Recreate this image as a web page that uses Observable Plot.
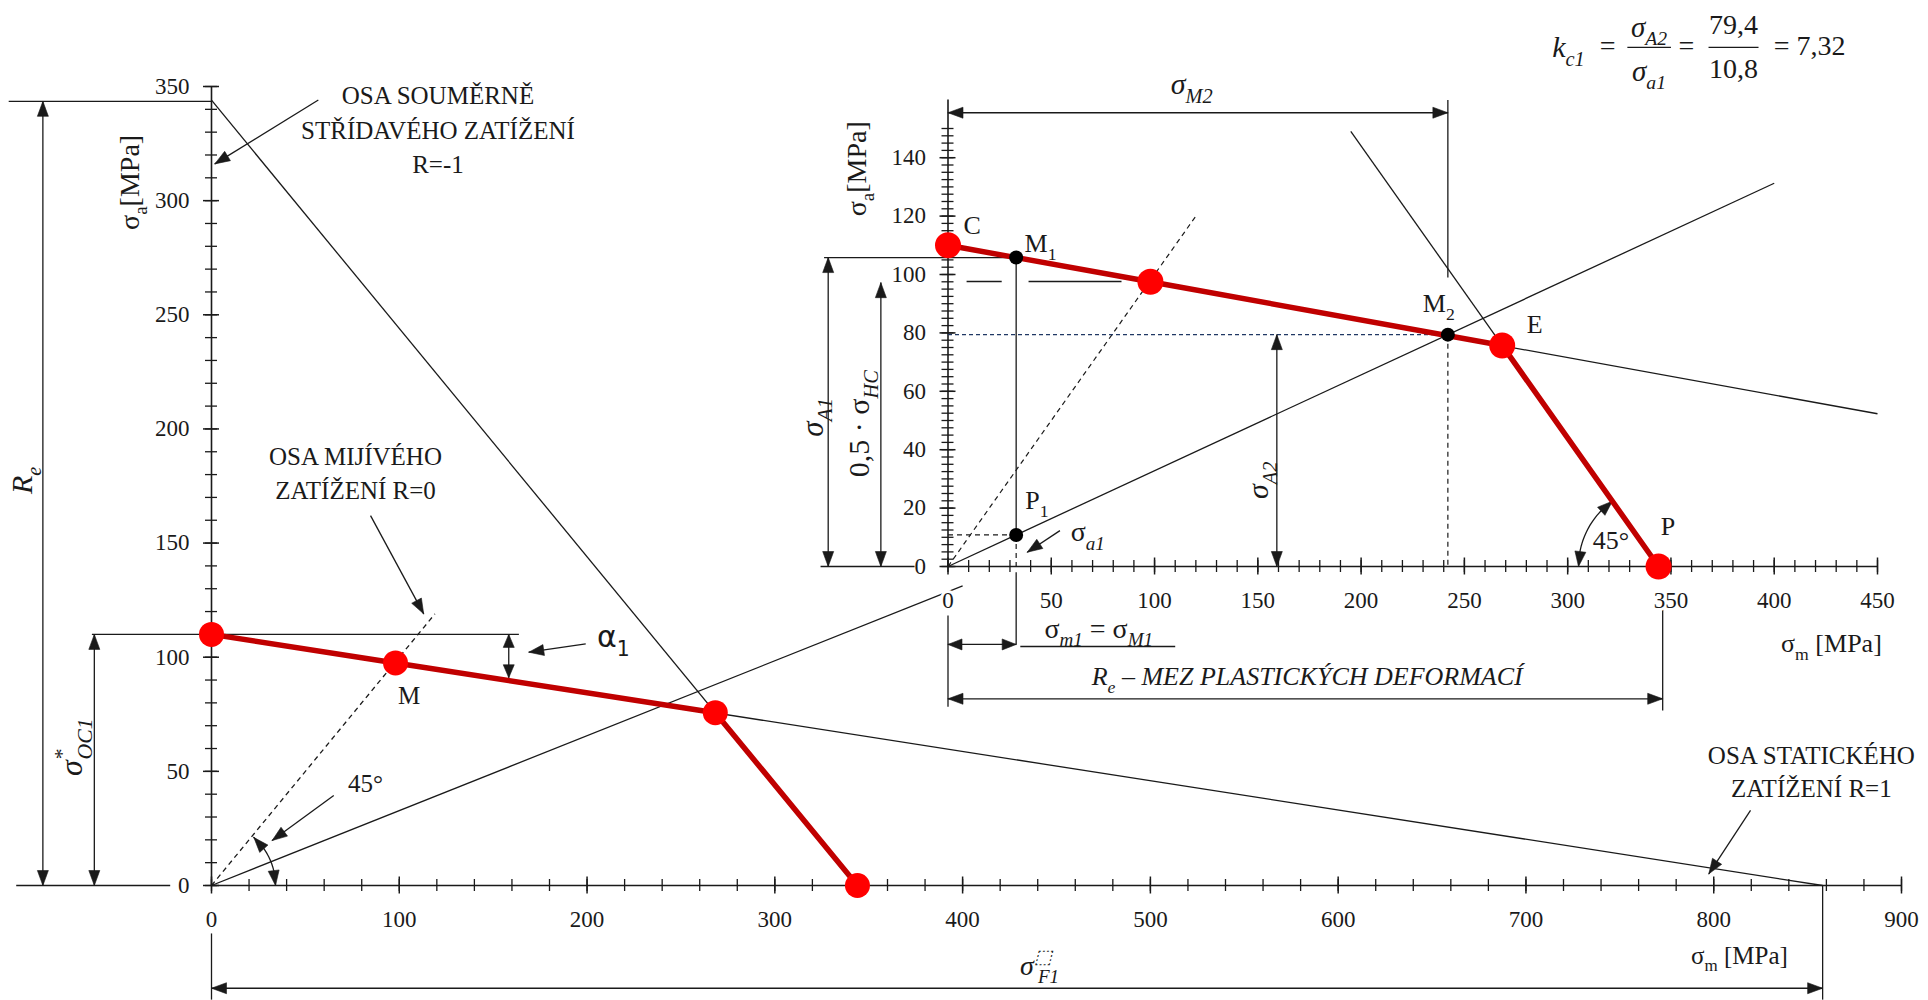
<!DOCTYPE html>
<html><head><meta charset="utf-8">
<script src="https://cdn.jsdelivr.net/npm/d3@7"></script>
<script src="https://cdn.jsdelivr.net/npm/@observablehq/plot@0.6"></script>
<style>
html,body{margin:0;padding:0;background:#fff;}
#wrap{position:relative;width:1928px;height:1000px;overflow:hidden;background:#fff;}
#wrap svg{position:absolute;left:0;top:0;overflow:visible;}
</style></head><body><div id="wrap"></div>
<script>
// ---------------- values ----------------
const sigmaOC1 = 110;          // σ*OC1  (σa at σm = 0)
const sigmaF1 = 858;           // σF1
const Re = 344;                // yield strength
const haighPts = [[0, 110], [98, 97.5], [268.3, 75.7], [344, 0]];   // C, M, E, P
const M1 = [33, 105.8], P1 = [33, 10.8], M2 = [242, 79.4];
const halfHC = 97.2;           // 0,5·σHC
const rSlope = 79.4 / 242;     // R line σa/σm
const mainXTickLabels = [0, 100, 200, 300, 400, 500, 600, 700, 800, 900];
const mainYTickLabels = [0, 50, 100, 150, 200, 250, 300, 350];
const insetXTickLabels = [0, 50, 100, 150, 200, 250, 300, 350, 400, 450];
const insetYTickLabels = [0, 20, 40, 60, 80, 100, 120, 140];
const kcNumbers = ["79,4", "10,8", "= 7,32"];

// ---------------- geometry of the two frames ----------------
const W = 1928, H = 1000;
const mainK = {x0: 211, x1: 1901, y0: 885, y1: 86, dx: [0, 900], dy: [0, 350]};
const insK  = {x0: 947.5, x1: 1877, y0: 566, y1: 128, dx: [0, 450], dy: [0, 150]};
for (const K of [mainK, insK]) {
  K.kx = (K.x1 - K.x0) / (K.dx[1] - K.dx[0]);
  K.ky = (K.y0 - K.y1) / (K.dy[1] - K.dy[0]);
}
let hid = 0;
function head(K, tip, from, L = 15, Wd = 11) {
  let ux = (tip[0] - from[0]) * K.kx, uy = -(tip[1] - from[1]) * K.ky;
  const n = Math.hypot(ux, uy); ux /= n; uy /= n;
  const bx = -ux * L, by = -uy * L, px = -uy * Wd / 2, py = ux * Wd / 2;
  const id = hid++;
  return [[0, 0], [bx + px, by + py], [bx - px, by - py], [0, 0]]
    .map(([u, v]) => ({id, x: tip[0] + u / K.kx, y: tip[1] - v / K.ky}));
}
function dbl(K, a, b, L, Wd) { return [...head(K, a, b, L, Wd), ...head(K, b, a, L, Wd)]; }
function arcPt(K, c, r, deg) {
  const a = deg * Math.PI / 180;
  return [c[0] + r * Math.cos(a) / K.kx, c[1] - r * Math.sin(a) / K.ky];
}
function arc(K, c, r, a0, a1) {
  return d3.range(0, 31).map(i => arcPt(K, c, r, a0 + (a1 - a0) * i / 30));
}
const seg = {x1: d => d[0], y1: d => d[1], x2: d => d[2], y2: d => d[3]};
const INK = "#1a1a1a";
const SERIF = "Liberation Serif", SANS = "DejaVu Sans";

function ticks(K, minorX, majorX, minorY, majorY, ly) {
  return [
    Plot.ruleY([0], {x1: K.dx[0], x2: K.dx[1], stroke: INK, strokeWidth: 1.6}),
    Plot.ruleX([0], {x: d => d, y1: 0, y2: ly, stroke: INK, strokeWidth: 1.6}),
    Plot.ruleX(minorX, {x: d => d, y1: 0, y2: 0, insetTop: -6, insetBottom: -6, stroke: INK, strokeWidth: 1.3}),
    Plot.ruleX(majorX, {x: d => d, y1: 0, y2: 0, insetTop: -8.5, insetBottom: -8.5, stroke: INK, strokeWidth: 1.5}),
    Plot.ruleY(minorY, {y: d => d, x1: 0, x2: 0, insetLeft: -6, insetRight: -6, stroke: INK, strokeWidth: 1.3}),
    Plot.ruleY(majorY, {y: d => d, x1: 0, x2: 0, insetLeft: -8, insetRight: -8, stroke: INK, strokeWidth: 1.5})
  ];
}
function txt(list, o = {}) {
  return Plot.text(list, {x: d => d[0], y: d => d[1], text: d => d[2], fill: INK,
    fontFamily: SERIF, fontSize: 25, ...o});
}

// ================= MAIN CHART =================
const mainThin = [
  [0, sigmaOC1, sigmaF1, 0], [0, Re, Re, 0], [0, 0, 400, 400 * rSlope],
  [-108, 343.5, 0, 343.5], [-104, 0, -22, 0], [-63.7, 110, 163.7, 110],
  [-89.8, 0, -89.8, 343.5], [-62.4, 0, -62.4, 110], [158.3, 110, 158.3, 91],
  [199.3, 105.8, 169, 102.2], [56.9, 344.1, 1.75, 316.1], [84.7, 162, 113, 119],
  [819.6, 32.9, 797.4, 5.1], [65.1, 39.4, 32.3, 19.7],
  [0, -45, sigmaF1, -45], [0, -21, 0, -50], [sigmaF1, 0, sigmaF1, -50]
];
const mainDashed = [[0, 0, 119, 119]];
const mainArcR = 64, mainArcEnd = -Math.atan2(mainK.ky, mainK.kx) * 180 / Math.PI + 2;
const mainArc = arc(mainK, [0, 0], mainArcR, -1, mainArcEnd);
const mainHeads = [
  ...dbl(mainK, [-89.8, 343.5], [-89.8, 0]),
  ...dbl(mainK, [-62.4, 110], [-62.4, 0]),
  ...dbl(mainK, [158.3, 110], [158.3, 91], 13, 11),
  ...head(mainK, [169, 102.2], [199.3, 105.8]),
  ...head(mainK, [1.75, 316.1], [56.9, 344.1]),
  ...head(mainK, [113, 119], [84.7, 162]),
  ...head(mainK, [797.4, 5.1], [819.6, 32.9]),
  ...head(mainK, [32.3, 19.7], [65.1, 39.4]),
  ...dbl(mainK, [0, -45], [sigmaF1, -45]),
  ...head(mainK, arcPt(mainK, [0, 0], mainArcR, mainArcEnd), arcPt(mainK, [0, 0], mainArcR, mainArcEnd + 14)),
  ...head(mainK, arcPt(mainK, [0, 0], mainArcR, 0), arcPt(mainK, [0, 0], mainArcR, -14))
];
const mainLabels = [
  [120.6, 346, "OSA SOUMĚRNĚ"], [120.6, 330.7, "STŘÍDAVÉHO ZATÍŽENÍ"], [120.6, 315.4, "R=-1"],
  [76.7, 187.9, "OSA MIJÍVÉHO"], [76.7, 172.7, "ZATÍŽENÍ R=0"],
  [852, 56.9, "OSA STATICKÉHO"], [852, 42.4, "ZATÍŽENÍ R=1"],
  [105.3, 83.2, "M"], [82, 44.5, "45°"], [813.7, -30.7, "σ_{m} [MPa]"]
];

const mainPlot = Plot.plot({
  width: W, height: H,
  marginLeft: mainK.x0, marginRight: W - mainK.x1, marginTop: mainK.y1, marginBottom: H - mainK.y0,
  x: {domain: mainK.dx, axis: null}, y: {domain: mainK.dy, axis: null},
  style: {background: "transparent", overflow: "visible"},
  marks: [
    ...ticks(mainK, d3.range(0, 901, 20), mainXTickLabels, d3.range(0, 351, 10), mainYTickLabels, 350),
    Plot.link(mainThin, {...seg, stroke: INK, strokeWidth: 1.3}),
    Plot.link(mainDashed, {...seg, stroke: INK, strokeWidth: 1.3, strokeDasharray: "5,4"}),
    Plot.line(mainArc, {x: d => d[0], y: d => d[1], stroke: INK, strokeWidth: 1.3}),
    Plot.line(mainHeads, {x: "x", y: "y", z: "id", fill: INK, stroke: INK, strokeWidth: 0.6}),
    Plot.line(haighPts, {x: d => d[0], y: d => d[1], stroke: "#c00000", strokeWidth: 5.5}),
    Plot.dot(haighPts, {x: d => d[0], y: d => d[1], r: 12.5, fill: "#ff0000"}),
    Plot.text(mainXTickLabels, {x: d => d, y: 0, dy: 34, text: d => String(d), fontFamily: SERIF, fontSize: 23, fill: INK}),
    Plot.text(mainYTickLabels, {x: 0, y: d => d, dx: -22, textAnchor: "end", text: d => String(d), fontFamily: SERIF, fontSize: 23, fill: INK}),
    txt(mainLabels),
    txt([[-43.4, 308, "σ_{a}[MPa]"]], {rotate: -90, fontSize: 28}),
    txt([[214, 108.8, "α_{1}"]], {fontFamily: SANS, fontSize: 30}),
    txt([[-74.3, 60.6, "σ^{*}|{-0.32}_{OC1}"]], {rotate: -90, fontStyle: "italic", fontSize: 32}),
    txt([[-100.6, 177.5, "R_{e}"]], {rotate: -90, fontStyle: "italic", fontSize: 30}),
    txt([[441, -35.2, "σ^{⬚}|{-0.5}_{F1}"]], {fontStyle: "italic", fontSize: 28})
  ]
});

// ================= INSET CHART =================
const hEnd = 450, hEndY = sigmaOC1 - sigmaOC1 * hEnd / sigmaF1;
const insThin = [
  [0, sigmaOC1, hEnd, hEndY], [195, Re - 195, Re, 0], [0, 0, 400, 400 * rSlope],
  [-60, M1[1], M1[0], M1[1]], [-61.7, 0, -16.2, 0], [-58, 0, -58, M1[1]], [-32.5, 0, -32.5, halfHC],
  [9, halfHC + 0.4, 26, halfHC + 0.4], [39, halfHC + 0.4, 84, halfHC + 0.4],
  [M1[0], M1[1], P1[0], P1[1]], [M1[0], -2, M1[0], -26.7],
  [54.2, 12.3, 38.4, 4.9],
  [M2[0], 159.8, M2[0], 99], [0, 155.4, M2[0], 155.4], [159.2, 0, 159.2, M2[1]],
  [0, -26.7, M1[0], -26.7], [35, -27.4, 110, -27.4],
  [0, -45.3, 346, -45.3], [0, -16.8, 0, -48], [346, -12.2, 346, -49.3],
  [328.9, 177.8, 350, 177.8], [368.2, 177.8, 392.4, 177.8]
];
const insDashed = [[0, 0, 120, 120], [P1[0], P1[1], P1[0], 0], [0, P1[1], P1[0], P1[1]], [M2[0], M2[1], M2[0], 0]];
const insBlue = [[0, M2[1], M2[0], M2[1]]];
const Pp = haighPts[3], Ep = haighPts[2];
const redAng = 180 + Math.atan2((Ep[1] - Pp[1]) * insK.ky, (Pp[0] - Ep[0]) * insK.kx) * 180 / Math.PI;
const insArcR = 80;
const insArc = arc(insK, Pp, insArcR, 181, redAng - 1);
const insHeads = [
  ...dbl(insK, [-58, M1[1]], [-58, 0]),
  ...dbl(insK, [-32.5, halfHC], [-32.5, 0]),
  ...head(insK, [38.4, 4.9], [54.2, 12.3]),
  ...dbl(insK, [0, 155.4], [M2[0], 155.4]),
  ...dbl(insK, [159.2, M2[1]], [159.2, 0]),
  ...dbl(insK, [0, -26.7], [M1[0], -26.7], 14, 11),
  ...dbl(insK, [0, -45.3], [346, -45.3]),
  ...head(insK, arcPt(insK, Pp, insArcR, 180), arcPt(insK, Pp, insArcR, 194)),
  ...head(insK, arcPt(insK, Pp, insArcR, redAng), arcPt(insK, Pp, insArcR, redAng - 14))
];
const insLabels = [
  [11.7, 116.8, "C"], [44.8, 110.5, "M_{1}"], [237.6, 90, "M_{2}"], [284, 82.9, "E"],
  [348.6, 13.5, "P"], [43, 22.6, "P_{1}"], [320.9, 8.9, "45°"],
  [427.7, -26.5, "σ_{m} [MPa]"]
];

const insPlot = Plot.plot({
  width: W, height: H,
  marginLeft: insK.x0, marginRight: W - insK.x1, marginTop: insK.y1, marginBottom: H - insK.y0,
  x: {domain: insK.dx, axis: null}, y: {domain: insK.dy, axis: null},
  style: {background: "transparent", overflow: "visible"},
  marks: [
    ...ticks(insK, d3.range(0, 451, 10), insetXTickLabels, d3.range(0, 152.5, 2.5), insetYTickLabels, 159.8),
    Plot.link(insThin, {...seg, stroke: INK, strokeWidth: 1.3}),
    Plot.link(insDashed, {...seg, stroke: INK, strokeWidth: 1.2, strokeDasharray: "5,4"}),
    Plot.link(insBlue, {...seg, stroke: "#203864", strokeWidth: 1.3, strokeDasharray: "4,3"}),
    Plot.line(insArc, {x: d => d[0], y: d => d[1], stroke: INK, strokeWidth: 1.3}),
    Plot.line(insHeads, {x: "x", y: "y", z: "id", fill: INK, stroke: INK, strokeWidth: 0.6}),
    Plot.line(haighPts, {x: d => d[0], y: d => d[1], stroke: "#c00000", strokeWidth: 5.5}),
    Plot.dot(haighPts, {x: d => d[0], y: d => d[1], r: 13, fill: "#ff0000"}),
    Plot.dot([M1, P1, M2], {x: d => d[0], y: d => d[1], r: 7, fill: "#000"}),
    Plot.text(insetXTickLabels, {x: d => d, y: 0, dy: 34, text: d => String(d), fontFamily: SERIF, fontSize: 23, fill: INK, stroke: "white", strokeWidth: 6, paintOrder: "stroke"}),
    Plot.text(insetYTickLabels, {x: 0, y: d => d, dx: -22, textAnchor: "end", text: d => String(d), fontFamily: SERIF, fontSize: 23, fill: INK}),
    txt(insLabels, {fontSize: 26}),
    txt([[66.2, 11.7, "σ_/{a1}"]], {fontSize: 28, textAnchor: "start", dx: -14}),
    txt([[118, 165, "σ_{M2}"]], {fontStyle: "italic", fontSize: 30}),
    txt([[-65.4, 51.1, "σ_{A1}"]], {rotate: -90, fontStyle: "italic", fontSize: 31}),
    txt([[-43.1, 48.9, "0,5 · σ_/{HC}"]], {rotate: -90, fontSize: 30}),
    txt([[150.5, 29.5, "σ_{A2}"]], {rotate: -90, fontStyle: "italic", fontSize: 30}),
    txt([[-44, 136.2, "σ_{a}[MPa]"]], {rotate: -90, fontSize: 28}),
    txt([[73, -21.3, "σ_/{m1} = σ_/{M1}"]], {fontSize: 28}),
    txt([[173.9, -37.9, "R_{e} – MEZ PLASTICKÝCH DEFORMACÍ"]], {fontStyle: "italic", fontSize: 26}),
    // k_c1 formula
    txt([[300.4, 177.8, "k_{c1}"]], {fontStyle: "italic", fontSize: 30}),
    txt([[319.3, 178.3, "="], [357.5, 178.3, "="]], {fontSize: 28}),
    txt([[339.4, 184.6, "σ_{A2}"], [339.4, 169.6, "σ_{a1}"]], {fontStyle: "italic", fontSize: 29}),
    txt([[380.3, 185.6, kcNumbers[0]], [380.3, 170.4, kcNumbers[1]]], {fontSize: 28}),
    txt([[417.1, 178.3, kcNumbers[2]]], {fontSize: 28})
  ]
});

const wrap = document.getElementById("wrap");
wrap.appendChild(mainPlot);
wrap.appendChild(insPlot);

// sub/superscript markup -> tspans (real text)
function richText(svg) {
  for (const t of svg.querySelectorAll("text")) {
    const s = t.textContent;
    if (!/(_|\^|\/|\|)\{/.test(s)) continue;
    const fs = parseFloat(getComputedStyle(t).fontSize) || 20;
    t.textContent = "";
    let cur = 0, pend = 0, m;
    const re = /(_\/|\^|_|\/|\|)\{([^}]*)\}|([^_^\/|{}]+)/g;
    while ((m = re.exec(s))) {
      const kind = m[1] || "", str = m[1] ? m[2] : m[3];
      if (kind === "|") { pend += parseFloat(str) * fs; continue; }
      const ts = document.createElementNS("http://www.w3.org/2000/svg", "tspan");
      let target = 0;
      if (kind === "_" || kind === "_/") { target = 0.3 * fs; ts.setAttribute("font-size", (0.68 * fs) + "px"); }
      if (kind === "^") { target = -0.42 * fs; ts.setAttribute("font-size", (0.68 * fs) + "px"); }
      if (kind === "/" || kind === "_/") ts.setAttribute("font-style", "italic");
      if (target !== cur) ts.setAttribute("dy", target - cur);
      if (pend) { ts.setAttribute("dx", pend); pend = 0; }
      cur = target;
      ts.textContent = str;
      t.appendChild(ts);
    }
  }
}
richText(mainPlot);
richText(insPlot);
</script></body></html>
